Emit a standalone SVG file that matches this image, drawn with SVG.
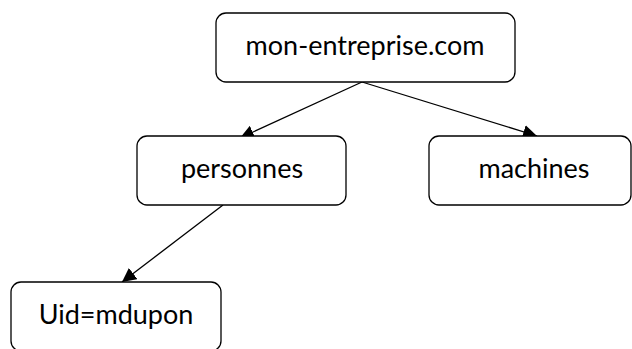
<svg xmlns="http://www.w3.org/2000/svg" width="632" height="349" viewBox="0 0 632 349">
  <style>
    .box { fill: #ffffff; stroke: #000000; stroke-width: 1.3; }
    .lbl { font-family: Lato, "Liberation Sans", sans-serif; font-size: 27px; fill: #000000; text-anchor: middle; }
    .edge { stroke: #000000; stroke-width: 1.3; fill: none; marker-end: url(#arrow); }
  </style>
  <defs>
    <marker id="arrow" markerUnits="userSpaceOnUse" viewBox="0 0 14 14" refX="14" refY="7" markerWidth="14" markerHeight="14" orient="auto">
      <path d="M0,0 L14,7 L0,14 z" fill="#000000"/>
    </marker>
  </defs>
  <rect x="0" y="0" width="632" height="349" fill="#ffffff"/>
  <g id="connectors">
    <line class="edge" x1="362" y1="82" x2="240" y2="138"/>
    <line class="edge" x1="362" y1="82" x2="537" y2="136"/>
    <line class="edge" x1="223" y1="205" x2="122" y2="282"/>
  </g>
  <g id="node-root">
    <rect class="box" x="216" y="13" width="299" height="69" rx="10" ry="10"/>
    <text class="lbl" x="365" y="55">mon-entreprise.com</text>
  </g>
  <g id="node-personnes">
    <rect class="box" x="137" y="136" width="209" height="69" rx="10" ry="10"/>
    <text class="lbl" x="242" y="178">personnes</text>
  </g>
  <g id="node-machines">
    <rect class="box" x="429" y="136" width="202" height="69" rx="10" ry="10"/>
    <text class="lbl" x="534" y="178">machines</text>
  </g>
  <g id="node-uid">
    <rect class="box" x="11" y="282" width="210" height="69" rx="10" ry="10"/>
    <text class="lbl" x="116" y="324">Uid=mdupon</text>
  </g>
</svg>
